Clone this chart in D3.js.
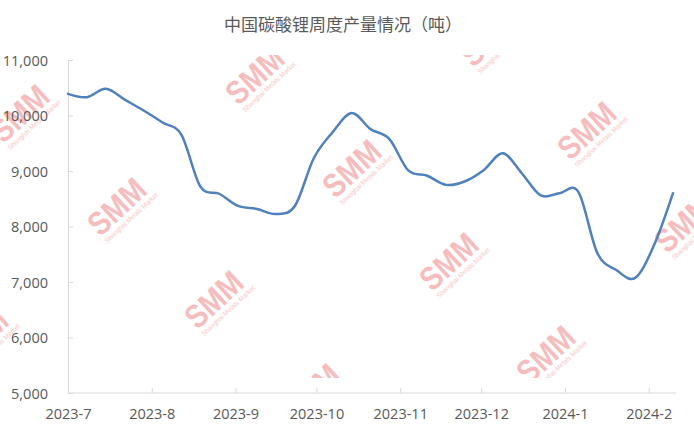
<!DOCTYPE html>
<html>
<head>
<meta charset="utf-8">
<script src="https://cdn.jsdelivr.net/npm/d3@7"></script>
<style>
  html, body { margin: 0; padding: 0; background: #ffffff; }
  svg { display: block; }
</style>
</head>
<body>
<svg id="chart" width="694" height="430"></svg>
<script>
// ---- data ----
const title = "中国碳酸锂周度产量情况（吨）";
const dates = [
  "2023-07-07","2023-07-14","2023-07-21","2023-07-28","2023-08-04","2023-08-11",
  "2023-08-18","2023-08-25","2023-09-01","2023-09-08","2023-09-15","2023-09-22",
  "2023-09-29","2023-10-06","2023-10-13","2023-10-20","2023-10-27","2023-11-03",
  "2023-11-10","2023-11-17","2023-11-24","2023-12-01","2023-12-08","2023-12-15",
  "2023-12-22","2023-12-29","2024-01-05","2024-01-12","2024-01-19","2024-01-26",
  "2024-02-02","2024-02-09","2024-02-16"
];
const production = [
  10390, 10330, 10480, 10285, 10090, 9875,
  9650, 8720, 8590, 8370, 8315, 8225,
  8370, 9230, 9700, 10045, 9755, 9575,
  9010, 8915, 8750, 8815, 9020, 9320,
  8960, 8560, 8600, 8620, 7520, 7215,
  7075, 7665, 8600
];
const xTickDates = ["2023-07-07","2023-08-07","2023-09-07","2023-10-07","2023-11-07","2023-12-07","2024-01-07","2024-02-07"];
const xTickLabels = ["2023-7","2023-8","2023-9","2023-10","2023-11","2023-12","2024-1","2024-2"];
const yTicks = [5000, 6000, 7000, 8000, 9000, 10000, 11000];
const watermarkMain = "SMM";
const watermarkSub = "Shanghai Metals Market";

// ---- layout ----
const parse = d3.timeParse("%Y-%m-%d");
const svg = d3.select("#chart");
const textColor = "#595959";
const axisColor = "#d9d9d9";
const font = "'Open Sans', 'Noto Sans CJK SC', sans-serif";

const x = d3.scaleTime()
  .domain([parse(dates[0]), parse(dates[dates.length - 1])])
  .range([68, 673]);
const y = d3.scaleLinear().domain([5000, 11000]).range([393, 60]);

// ---- watermarks (below everything) ----
svg.append("defs").append("clipPath").attr("id", "wmclip")
  .append("rect").attr("x", 0).attr("y", 55).attr("width", 694).attr("height", 323);
const wmLayer = svg.append("g").attr("clip-path", "url(#wmclip)");
const wmCenters = [];
for (let m = -2; m <= 2; m++) {
  for (let n = -2; n <= 2; n++) {
    const cx = 449 + m * 235 + n * 97;
    const cy = 262 - m * 38 + n * 93;
    if (cx > -40 && cx < 740 && cy > 20 && cy < 420) wmCenters.push([cx, cy]);
  }
}
wmCenters.forEach(([cx, cy]) => {
  const g = wmLayer.append("g").attr("transform", `translate(${cx},${cy}) rotate(-43)`);
  g.append("text")
    .attr("x", 0).attr("y", 11)
    .attr("text-anchor", "middle")
    .attr("font-family", "'Liberation Sans', Arial, sans-serif")
    .attr("font-weight", "bold")
    .attr("font-size", 33)
    .attr("textLength", 66)
    .attr("lengthAdjust", "spacingAndGlyphs")
    .attr("fill", "#f5bdbd")
    .text(watermarkMain);
  g.append("text")
    .attr("x", 3).attr("y", 20)
    .attr("text-anchor", "middle")
    .attr("font-family", "'Liberation Sans', Arial, sans-serif")
    .attr("font-size", 7)
    .attr("textLength", 70)
    .attr("lengthAdjust", "spacingAndGlyphs")
    .attr("fill", "#f6c8c8")
    .text(watermarkSub);
});

// ---- title ----
svg.append("text")
  .attr("x", 343).attr("y", 31)
  .attr("text-anchor", "middle")
  .attr("font-family", "'Noto Sans CJK SC', sans-serif")
  .attr("font-size", 17)
  .attr("fill", textColor)
  .text(title);

// ---- y axis ----
const yAxis = d3.axisRight(y).tickValues(yTicks).tickSize(5).tickFormat(d3.format(","));
const yg = svg.append("g").attr("transform", "translate(68,0)").call(yAxis);
yg.select(".domain").attr("stroke", axisColor);
yg.selectAll(".tick line").attr("stroke", axisColor);
yg.selectAll(".tick text")
  .attr("x", -20).attr("dy", "0.35em")
  .attr("text-anchor", "end")
  .attr("font-family", font)
  .attr("font-size", 14.5)
  .attr("fill", textColor);

// ---- x axis ----
const xAxis = d3.axisTop(x)
  .tickValues(xTickDates.map(parse))
  .tickSize(5)
  .tickFormat((d, i) => xTickLabels[i]);
const xg = svg.append("g").attr("transform", `translate(0,${y(5000)})`).call(xAxis);
xg.select(".domain").remove();
xg.append("line").attr("x1", 68).attr("x2", 676).attr("y1", 0).attr("y2", 0).attr("stroke", axisColor);
xg.selectAll(".tick line").attr("stroke", axisColor);
xg.selectAll(".tick text")
  .attr("y", 26).attr("dy", 0)
  .attr("font-family", font)
  .attr("font-size", 14.5)
  .attr("fill", textColor);

// ---- line ----
const series = dates.map((d, i) => ({ date: parse(d), value: production[i] }));
const line = d3.line()
  .x(d => x(d.date))
  .y(d => y(d.value))
  .curve(d3.curveCardinal.tension(0));
svg.append("path")
  .datum(series)
  .attr("d", line)
  .attr("fill", "none")
  .attr("stroke", "#4f81bd")
  .attr("stroke-width", 2.5)
  .attr("stroke-linejoin", "round")
  .attr("stroke-linecap", "round");
</script>
</body>
</html>
